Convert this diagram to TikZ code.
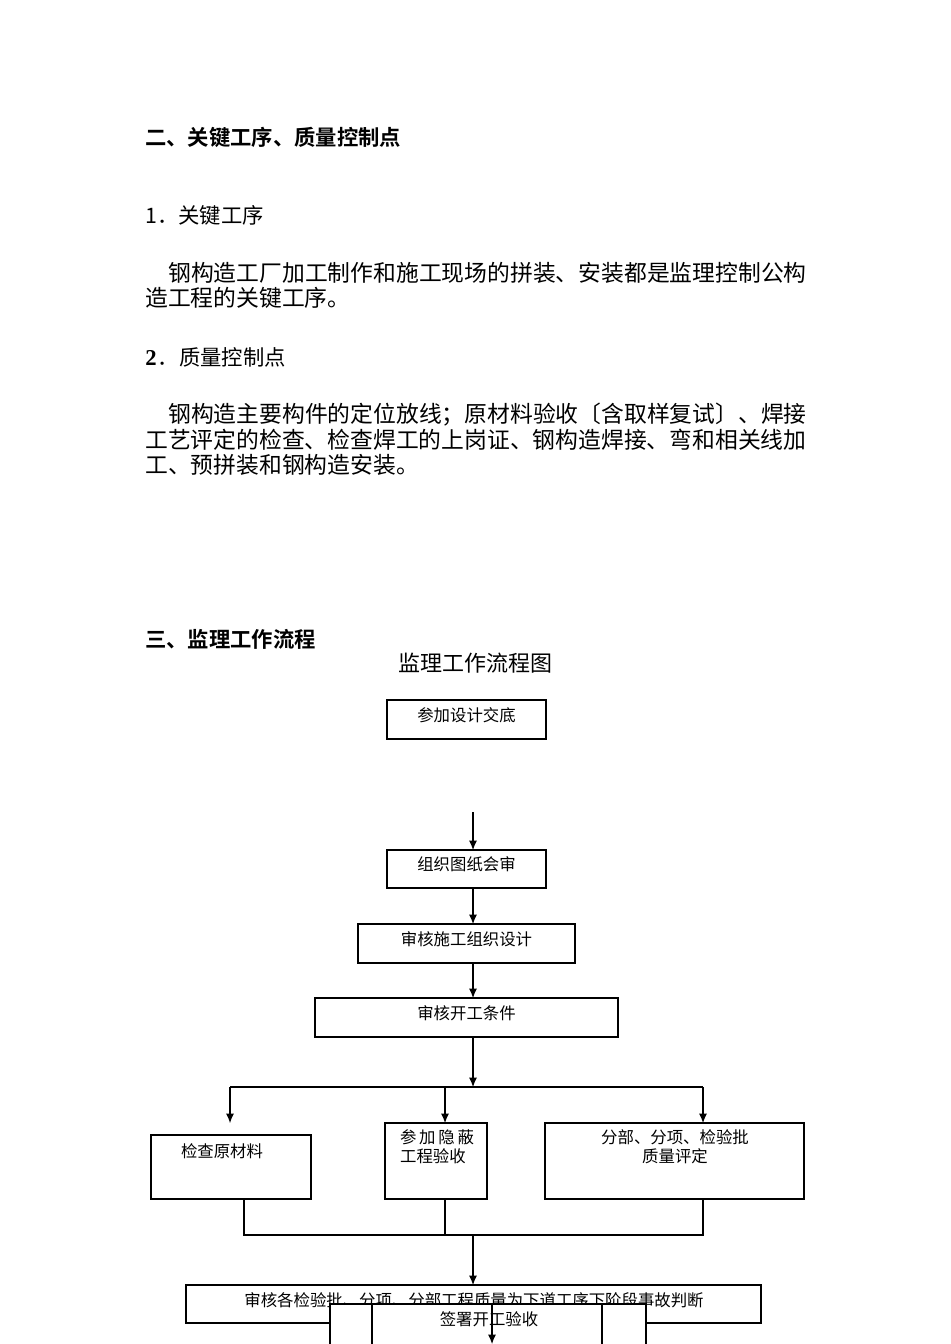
\documentclass[tikz,border=0pt]{standalone}
\usepackage{fontspec}
\setmainfont{Noto Sans CJK SC}
\newfontfamily\cjkb{Noto Sans CJK SC Bold}
\newfontfamily\serifnum{Liberation Serif}
\begin{document}
\begin{tikzpicture}[x=0.75pt,y=-0.75pt,
  box/.style={draw,line width=0.8pt,fill=white},
  conn/.style={line width=0.8pt},
  arr/.style={conn,-{Latex[length=7pt,width=6pt]}},
  bt/.style={font=\fontsize{12.3}{14.5}\selectfont,inner sep=0pt},
  body/.style={anchor=west,inner sep=0pt,font=\fontsize{17.1}{20}\selectfont},
  head/.style={anchor=west,inner sep=0pt,font=\cjkb\fontsize{16}{18}\selectfont}]
\usetikzlibrary{arrows.meta}
\useasboundingbox (0,0) rectangle (950,1344);
\fill[white] (0,0) rectangle (950,1344);
\node[head] (h1) at (145,137) {二、关键工序、质量控制点};
\node[body,font=\fontsize{16}{18}\selectfont] (h2) at (145,215) {1．关键工序};
\node[body] (p1a) at (168,273) {钢构造工厂加工制作和施工现场的拼装、安装都是监理控制公构};
\node[body] (p1b) at (145,298) {造工程的关键工序。};
\node[body,font=\fontsize{16}{18}\selectfont] (h3) at (145,357) {{\serifnum\bfseries\fontsize{17}{18}\selectfont 2}\kern1pt．质量控制点};
\node[body] (p2a) at (168,415) {钢构造主要构件的定位放线；原材料验收〔含取样复试〕、焊接};
\node[body] (p2b) at (145,440) {工艺评定的检查、检查焊工的上岗证、钢构造焊接、弯和相关线加};
\node[body] (p2c) at (145,465) {工、预拼装和钢构造安装。};
\node[head] (h4) at (145,639) {三、监理工作流程};
\node[inner sep=0pt,font=\fontsize{16.5}{19}\selectfont] (title) at (475,663) {监理工作流程图};
% boxes
\draw[box] (387,700) rectangle (546,739);
\node[bt] (A) at (466.5,715) {参加设计交底};
\coordinate (a0) at (473,812);
\draw[box] (387,850) rectangle (546,888);
\node[bt] (B) at (466.5,864) {组织图纸会审};
\draw[box] (358,924) rectangle (575,963);
\node[bt] (C) at (466.5,939) {审核施工组织设计};
\draw[box] (315,998) rectangle (618,1037);
\node[bt] (D) at (466.5,1013) {审核开工条件};
\draw[arr] (a0) -- (473,850);
\draw[arr] (473,888) -- (473,924);
\draw[arr] (473,963) -- (473,998);
\draw[arr] (473,1037) -- (473,1087);
\draw[conn] (230,1087) -- (703,1087);
\draw[arr] (230,1087) -- (230,1123);
\draw[arr] (445,1087) -- (445,1123);
\draw[arr] (703,1087) -- (703,1123);
\draw[box] (151,1135) rectangle (311,1199);
\node[bt] (E) at (222,1151) {检查原材料};
\draw[box] (385,1123) rectangle (487,1199);
\node[bt,align=left] (F) at (437,1147) {参\,加\,隐\,蔽\\工程验收};
\draw[box] (545,1123) rectangle (804,1199);
\node[bt,align=center] (G) at (675,1147) {分部、分项、检验批\\质量评定};
\draw[conn] (244,1199) -- (244,1235) -- (703,1235) -- (703,1199);
\draw[conn] (445,1199) -- (445,1235);
\draw[arr] (473,1235) -- (473,1285);
\draw[box] (186,1285) rectangle (761,1323);
\node[bt] (H) at (474,1300) {审核各检验批、分项、分部工程质量为下道工序下阶段事故判断};
\draw[box] (330,1304) rectangle (646,1346);
\draw[conn] (372,1304) -- (372,1346) (602,1304) -- (602,1346);
\node[bt] (I) at (489,1319) {签署开工验收};
\draw[arr] (492,1304) -- (492,1344);
\end{tikzpicture}
\end{document}
